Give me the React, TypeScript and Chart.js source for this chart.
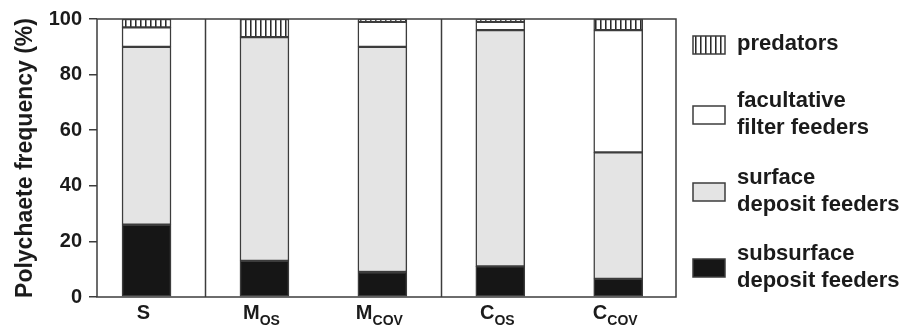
import React, { useEffect, useRef } from 'react';
import { Chart, registerables } from 'chart.js';

Chart.register(...registerables);

// ---- data ----
const categoryMain = ['S', 'M', 'M', 'C', 'C'];
const categorySub = ['', 'OS', 'COV', 'OS', 'COV'];
const subsurface = [26, 13, 9, 11, 6.5];
const surface = [64, 80.5, 81, 85, 45.5];
const facultative = [7, 0, 9, 3, 44];
const predators = [3, 6.5, 1, 1, 4];
const yTicks = [0, 20, 40, 60, 80, 100];
// index of the last category of each group (a separator line follows it)
const groupEnds = [0, 2];
const legendLines = [
  ['predators'],
  ['facultative', 'filter feeders'],
  ['surface', 'deposit feeders'],
  ['subsurface', 'deposit feeders'],
];
const yTitle = 'Polychaete frequency (%)';

const FONT = '"Liberation Sans", Arial, Helvetica, sans-serif';
const TEXT = '#1b1b1b';
const LINE = '#3c3c3c';

function makeHatch(): CanvasPattern | string {
  const c = document.createElement('canvas');
  c.width = 5;
  c.height = 10;
  const g = c.getContext('2d');
  if (!g) return '#fff';
  g.fillStyle = '#ffffff';
  g.fillRect(0, 0, 5, 10);
  g.fillStyle = '#2a2a2a';
  g.fillRect(0, 0, 1, 10);
  g.fillStyle = '#8a8a8a';
  g.fillRect(1, 0, 1, 10);
  return g.createPattern(c, 'repeat') || '#fff';
}

export default function App() {
  const ref = useRef<HTMLCanvasElement | null>(null);

  useEffect(() => {
    document.body.style.margin = '0';
    const canvas = ref.current;
    if (!canvas) return;
    const hatch = makeHatch();
    const toXY = (arr: number[]) => arr.map((v, i) => ({ x: i, y: v }));

    const fills = ['#161616', '#e4e4e4', '#ffffff', hatch];
    const seriesData = [subsurface, surface, facultative, predators];

    const overlay = {
      id: 'overlay',
      afterDatasetsDraw(chart: any) {
        const { ctx, chartArea: a } = chart;
        const x = chart.scales.x;
        ctx.save();
        ctx.strokeStyle = LINE;
        ctx.lineWidth = 1.5;
        ctx.strokeRect(a.left, a.top, a.right - a.left, a.bottom - a.top);
        groupEnds.forEach((i) => {
          const px = Math.round((x.getPixelForValue(i) + x.getPixelForValue(i + 1)) / 2) + 0.5;
          ctx.beginPath();
          ctx.moveTo(px, a.top);
          ctx.lineTo(px, a.bottom);
          ctx.stroke();
        });

        // category labels with subscripts
        ctx.fillStyle = TEXT;
        ctx.textBaseline = 'alphabetic';
        ctx.textAlign = 'left';
        categoryMain.forEach((m, i) => {
          const sub = categorySub[i];
          const cx = x.getPixelForValue(i) - 3;
          ctx.font = `bold 20px ${FONT}`;
          const w1 = ctx.measureText(m).width;
          ctx.font = `bold 14px ${FONT}`;
          const w2 = sub ? ctx.measureText(sub).width : 0;
          const start = cx - (w1 + w2) / 2;
          ctx.font = `bold 20px ${FONT}`;
          ctx.fillText(m, start, 319);
          if (sub) {
            ctx.font = `bold 14px ${FONT}`;
            ctx.fillText(sub, start + w1, 325);
          }
        });

        // legend (top to bottom: reverse of stacking order)
        const centers = [44, 114, 191, 267];
        const boxX = 693;
        const boxW = 32;
        const boxH = 18;
        const textX = 737;
        const lineGap = 27;
        legendLines.forEach((lines, k) => {
          const dsIndex = 3 - k;
          const cy = centers[k];
          ctx.fillStyle = fills[dsIndex] as any;
          ctx.fillRect(boxX, cy + 1 - boxH / 2, boxW, boxH);
          ctx.strokeStyle = LINE;
          ctx.lineWidth = 1.5;
          ctx.strokeRect(boxX, cy + 1 - boxH / 2, boxW, boxH);
          ctx.fillStyle = TEXT;
          ctx.font = `bold 22px ${FONT}`;
          ctx.textBaseline = 'middle';
          const y0 = cy - ((lines.length - 1) * lineGap) / 2;
          lines.forEach((t, j) => ctx.fillText(t, textX, y0 + j * lineGap));
        });
        ctx.restore();
      },
    };

    const chart = new Chart(canvas, {
      type: 'bar',
      data: {
        datasets: seriesData.map((arr, k) => ({
          label: ['subsurface deposit feeders', 'surface deposit feeders', 'facultative filter feeders', 'predators'][k],
          data: toXY(arr),
          backgroundColor: fills[k] as any,
          borderColor: LINE,
          borderWidth: 1.5,
          borderSkipped: false,
          barThickness: 49,
          stack: 'all',
        })),
      },
      options: {
        animation: false,
        responsive: false,
        maintainAspectRatio: false,
        layout: { padding: { left: 0, top: 19, right: 239, bottom: 33 } },
        plugins: { legend: { display: false }, tooltip: { enabled: false } },
        scales: {
          x: {
            type: 'linear',
            min: -0.42,
            max: 4.49,
            offset: false,
            display: false,
          },
          y: {
            stacked: true,
            min: 0,
            max: 100,
            afterBuildTicks: (s: any) => {
              s.ticks = yTicks.map((v) => ({ value: v }));
            },
            afterFit: (s: any) => {
              s.width = 97;
            },
            border: { display: false },
            grid: {
              drawOnChartArea: false,
              drawTicks: true,
              tickLength: 8,
              color: LINE,
              lineWidth: 1.5,
            },
            ticks: {
              color: TEXT,
              padding: 7,
              font: { family: FONT, size: 20, weight: 'bold' },
            },
            title: {
              display: true,
              text: yTitle,
              color: TEXT,
              padding: { top: 12, bottom: 0 },
              font: { family: FONT, size: 23, weight: 'bold' },
            },
          },
        },
      },
      plugins: [overlay],
    } as any);

    return () => chart.destroy();
  }, []);

  return (
    <div style={{ width: 915, height: 330 }}>
      <canvas ref={ref} width={915} height={330} style={{ display: 'block', width: 915, height: 330 }} />
    </div>
  );
}
